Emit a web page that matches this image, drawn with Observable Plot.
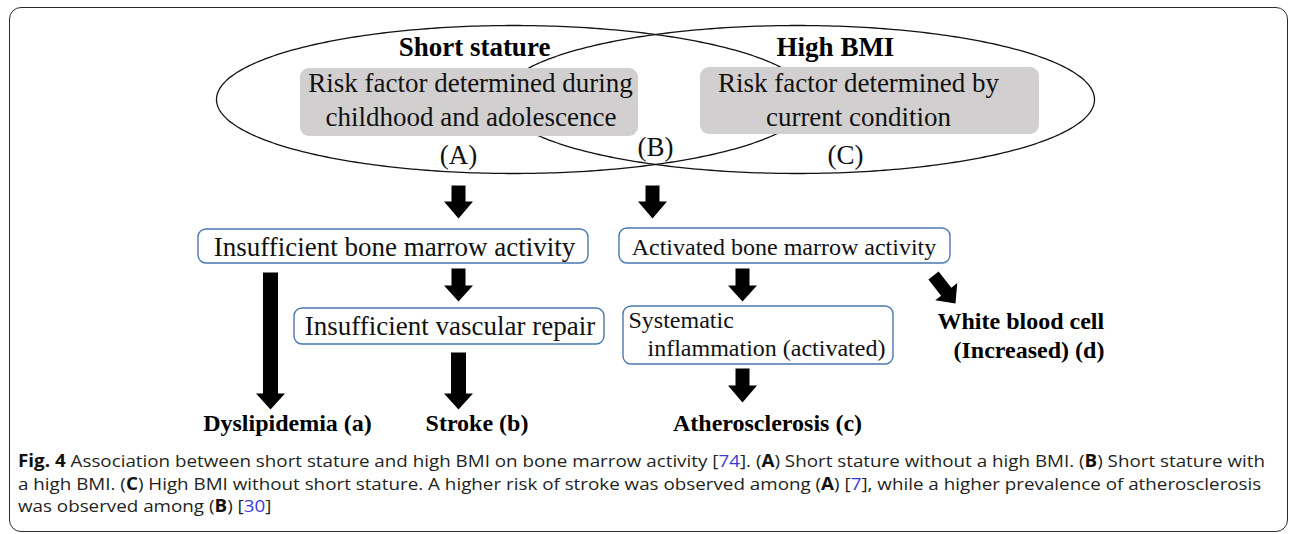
<!DOCTYPE html>
<html>
<head>
<meta charset="utf-8">
<script src="https://cdn.jsdelivr.net/npm/d3@7"></script>
<script src="https://cdn.jsdelivr.net/npm/@observablehq/plot@0.6"></script>
<style>
html,body{margin:0;padding:0;background:#fff;}
#fig{position:relative;width:1290px;height:534px;overflow:hidden;background:#fff;}
#frame{position:absolute;left:9px;top:7px;width:1279px;height:525px;box-sizing:border-box;border:1.5px solid #2b2b2b;border-radius:12px;}
#chart{position:absolute;left:0;top:0;}
#caption{position:absolute;left:18px;top:450px;font-family:"Open Sans",sans-serif;font-size:17px;line-height:22.5px;color:#231f20;}
#caption .line{display:block;white-space:nowrap;width:max-content;transform-origin:0 0;}
#caption b{font-weight:700;color:#111;}
#caption .ref{color:#3a3ad8;}
</style>
</head>
<body>
<div id="fig">
  <div id="frame"></div>
  <div id="chart"></div>
  <div id="caption">
    <span class="line"><b>Fig. 4</b> Association between short stature and high BMI on bone marrow activity [<span class="ref">74</span>]. (<b>A</b>) Short stature without a high BMI. (<b>B</b>) Short stature with</span>
    <span class="line">a high BMI. (<b>C</b>) High BMI without short stature. A higher risk of stroke was observed among (<b>A</b>) [<span class="ref">7</span>], while a higher prevalence of atherosclerosis</span>
    <span class="line">was observed among (<b>B</b>) [<span class="ref">30</span>]</span>
  </div>
</div>
<script>
// ---------- content (labels) ----------
const groupNames = ["Short stature", "High BMI"];
const groupDescriptions = [
  ["Risk factor determined during", "childhood and adolescence"],
  ["Risk factor determined by", "current condition"]
];
const regionLabels = ["(A)", "(B)", "(C)"];
const pathwayNodes = [
  "Insufficient bone marrow activity",
  "Activated bone marrow activity",
  "Insufficient vascular repair",
  ["Systematic", "inflammation (activated)"]
];
const outcomes = [
  "Dyslipidemia (a)",
  "Stroke (b)",
  "Atherosclerosis (c)",
  ["White blood cell", "(Increased) (d)"]
];

// ---------- layout (pixel geometry of the diagram) ----------
const W = 1290, H = 445;
const layout = {
  ellipses: [{cx: 513, cy: 99, rx: 297, ry: 74}, {cx: 797, cy: 99, rx: 297, ry: 74}],
  groupTitles: [{x: 474, y: 55}, {x: 835, y: 55}],
  grayBoxes: [{x1: 300, x2: 638, y1: 68, y2: 136}, {x1: 700, x2: 1039, y1: 67, y2: 134}],
  descLines: [[{x: 470, y: 91}, {x: 470.5, y: 125}], [{x: 858, y: 91}, {x: 858, y: 125}]],
  regions: [{x: 458, y: 163}, {x: 655, y: 155}, {x: 845, y: 163}],
  nodeBoxes: [
    {x1: 198, x2: 588, y1: 229, y2: 263},
    {x1: 619, x2: 950, y1: 228, y2: 263},
    {x1: 294, x2: 604, y1: 308, y2: 344},
    {x1: 623, x2: 893, y1: 306, y2: 364}
  ],
  nodeText: [
    [{x: 394, y: 255, anchor: "middle", size: 27}],
    [{x: 783.5, y: 254, anchor: "middle", size: 24}],
    [{x: 449.5, y: 334, anchor: "middle", size: 27}],
    [{x: 628, y: 327, anchor: "start", size: 24}, {x: 647, y: 355, anchor: "start", size: 24}]
  ],
  outcomeText: [
    [{x: 287, y: 430, anchor: "middle"}],
    [{x: 476.5, y: 430, anchor: "middle"}],
    [{x: 767, y: 430, anchor: "middle"}],
    [{x: 937, y: 328, anchor: "start"}, {x: 953, y: 357, anchor: "start"}]
  ],
  arrows: [
    {x0: 458, y0: 185, x1: 458, y1: 218, sw: 14, hw: 29, hl: 17},
    {x0: 652, y0: 185, x1: 652, y1: 218, sw: 14, hw: 29, hl: 17},
    {x0: 270, y0: 272, x1: 270, y1: 409, sw: 15, hw: 29, hl: 16},
    {x0: 458, y0: 268, x1: 458, y1: 301, sw: 14, hw: 29, hl: 16},
    {x0: 458, y0: 352, x1: 458, y1: 409, sw: 15, hw: 29, hl: 16},
    {x0: 742, y0: 268, x1: 742, y1: 301, sw: 14, hw: 29, hl: 16},
    {x0: 742, y0: 368, x1: 742, y1: 402, sw: 14, hw: 29, hl: 17},
    {x0: 933, y0: 275, x1: 955, y1: 303, sw: 13, hw: 28, hl: 15}
  ]
};

// ---------- build mark tables ----------
const ellipsePts = layout.ellipses.flatMap((e, i) =>
  d3.range(0, 360, 1).map(a => ({id: i,
    x: e.cx + e.rx * Math.cos(a * Math.PI / 180),
    y: e.cy + e.ry * Math.sin(a * Math.PI / 180)})));

function arrowPolygon(a, id) {
  const dx = a.x1 - a.x0, dy = a.y1 - a.y0, L = Math.hypot(dx, dy);
  const ux = dx / L, uy = dy / L, nx = -uy, ny = ux;
  const neckX = a.x1 - ux * a.hl, neckY = a.y1 - uy * a.hl;
  const p = (x, y) => ({id, x, y});
  return [
    p(a.x0 + nx * a.sw / 2, a.y0 + ny * a.sw / 2),
    p(neckX + nx * a.sw / 2, neckY + ny * a.sw / 2),
    p(neckX + nx * a.hw / 2, neckY + ny * a.hw / 2),
    p(a.x1, a.y1),
    p(neckX - nx * a.hw / 2, neckY - ny * a.hw / 2),
    p(neckX - nx * a.sw / 2, neckY - ny * a.sw / 2),
    p(a.x0 - nx * a.sw / 2, a.y0 - ny * a.sw / 2)
  ];
}
const arrowPts = layout.arrows.flatMap((a, i) => arrowPolygon(a, i));

const titleRows = groupNames.map((t, i) => ({text: t, ...layout.groupTitles[i]}));
const descRows = groupDescriptions.flatMap((lines, i) => lines.map((t, j) => ({text: t, ...layout.descLines[i][j]})));
const regionRows = regionLabels.map((t, i) => ({text: t, ...layout.regions[i]}));
const nodeRows = pathwayNodes.flatMap((n, i) => [].concat(n).map((t, j) => ({text: t, ...layout.nodeText[i][j]})));
const outcomeRows = outcomes.flatMap((n, i) => [].concat(n).map((t, j) => ({text: t, ...layout.outcomeText[i][j]})));

const serif = "'Liberation Serif', 'Times New Roman', serif";
const textOpts = {x: "x", y: "y", text: "text", fontFamily: serif, lineAnchor: "bottom"};

const chart = Plot.plot({
  width: W, height: H,
  margin: 0,
  x: {domain: [0, W], range: [0, W], axis: null},
  y: {domain: [0, H], range: [0, H], axis: null},
  style: {background: "transparent", overflow: "visible"},
  marks: [
    Plot.line(ellipsePts, {x: "x", y: "y", z: "id", stroke: "#111", strokeWidth: 1.3, curve: "linear-closed"}),
    Plot.rect(layout.grayBoxes, {x1: "x1", x2: "x2", y1: "y1", y2: "y2", rx: 9, fill: "#d1cfcf"}),
    Plot.text(titleRows, {...textOpts, fontSize: 27, fontWeight: "bold", fill: "#000"}),
    Plot.text(descRows, {...textOpts, fontSize: 27, fill: "#111"}),
    Plot.text(regionRows, {...textOpts, fontSize: 27, fill: "#111"}),
    Plot.rect(layout.nodeBoxes, {x1: "x1", x2: "x2", y1: "y1", y2: "y2", rx: 8, fill: "#fff", stroke: "#4a78b0", strokeWidth: 1.4}),
    Plot.text(nodeRows.filter(d => d.anchor === "middle"), {...textOpts, fontSize: "size", textAnchor: "middle", fill: "#111"}),
    Plot.text(nodeRows.filter(d => d.anchor === "start"), {...textOpts, fontSize: "size", textAnchor: "start", fill: "#111"}),
    Plot.text(outcomeRows.filter(d => d.anchor === "middle"), {...textOpts, fontSize: 24, fontWeight: "bold", textAnchor: "middle", fill: "#000"}),
    Plot.text(outcomeRows.filter(d => d.anchor === "start"), {...textOpts, fontSize: 24, fontWeight: "bold", textAnchor: "start", fill: "#000"}),
    Plot.line(arrowPts, {x: "x", y: "y", z: "id", fill: "#000", stroke: "none", curve: "linear-closed"})
  ]
});
document.getElementById("chart").appendChild(chart);

// fit caption lines to the width of the printed caption
const lines = document.querySelectorAll("#caption .line");
const w1 = lines[0].getBoundingClientRect().width;
const s = 1247 / w1;
lines.forEach(l => { l.style.transform = `scaleX(${s})`; });
</script>
</body>
</html>
